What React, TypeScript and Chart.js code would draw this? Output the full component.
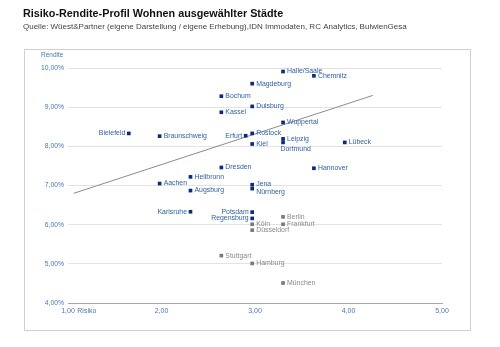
import React, { useEffect, useRef } from "react";
import { Chart, registerables } from "chart.js";

Chart.register(...registerables);

const cities = [
  "Halle/Saale", "Chemnitz", "Magdeburg", "Bochum", "Duisburg", "Kassel", "Wuppertal",
  "Bielefeld", "Braunschweig", "Erfurt", "Rostock", "Leipzig", "Dortmund", "Kiel", "Lübeck",
  "Dresden", "Hannover", "Heilbronn", "Aachen", "Jena", "Nürnberg", "Augsburg", "Karlsruhe",
  "Potsdam", "Regensburg",
];
const risk = [
  3.30, 3.63, 2.97, 2.64, 2.97, 2.64, 3.30,
  1.65, 1.98, 2.90, 2.97, 3.30, 3.30, 2.97, 3.96,
  2.64, 3.63, 2.31, 1.98, 2.97, 2.97, 2.31, 2.31,
  2.97, 2.97,
];
const yieldPct = [
  9.91, 9.80, 9.60, 9.28, 9.02, 8.87, 8.61,
  8.33, 8.26, 8.27, 8.33, 8.19, 8.10, 8.06, 8.10,
  7.46, 7.44, 7.22, 7.05, 7.02, 6.92, 6.87, 6.33,
  6.32, 6.16,
];

const bigCities = ["Berlin", "Köln", "Frankfurt", "Düsseldorf", "Stuttgart", "Hamburg", "München"];
const bigRisk = [3.30, 2.97, 3.30, 2.97, 2.64, 2.97, 3.30];
const bigYield = [6.20, 6.01, 6.01, 5.86, 5.21, 5.01, 4.51];

const trendRisk = [1.06, 4.26];
const trendYield = [6.80, 9.30];

const xTicks = [1, 2, 3, 4, 5];
const yTicks = [4, 5, 6, 7, 8, 9, 10];

const title = "Risiko-Rendite-Profil Wohnen ausgewählter Städte";
const subtitle = "Quelle: Wüest&Partner (eigene Darstellung / eigene Erhebung),IDN Immodaten, RC Analytics, BulwienGesa";

// label placement (style)
const leftLabels = ["Bielefeld", "Erfurt", "Karlsruhe", "Potsdam", "Regensburg"];
const belowLabels = ["Dortmund"];
const shiftDown: Record<string, number> = { "Nürnberg": 3, "Jena": -1 };

const FONT = "Arial, 'Liberation Sans', sans-serif";
const BLUE_MARK = "#0c2a7e";
const BLUE_TEXT = "#2f5f9f";
const GRAY_MARK = "#7a7a7a";
const GRAY_TEXT = "#8a8a8a";
const TICK_TEXT = "#4a78b2";

const fmt = (v: number) => v.toFixed(2).replace(".", ",");

export default function App() {
  const ref = useRef<HTMLCanvasElement | null>(null);
  useEffect(() => {
    if (!ref.current) return;
    const labelPlugin = {
      id: "labels",
      beforeDraw(chart: any) {
        const ctx = chart.ctx;
        ctx.save();
        ctx.fillStyle = "#ffffff";
        ctx.fillRect(0, 0, chart.width, chart.height);
        ctx.strokeStyle = "#d0d0d0";
        ctx.lineWidth = 1;
        ctx.strokeRect(24.5, 49.5, 446, 281);
        ctx.fillStyle = "#111";
        ctx.font = `bold 10.8px ${FONT}`;
        ctx.textBaseline = "middle";
        ctx.textAlign = "left";
        ctx.fillText(title, 23, 14);
        ctx.fillStyle = "#444";
        ctx.font = `8px ${FONT}`;
        ctx.fillText(subtitle, 23, 27);
        ctx.fillStyle = TICK_TEXT;
        ctx.font = `6.5px ${FONT}`;
        ctx.fillText("Rendite", 41, 55.5);
        const xs = chart.scales.x;
        const ys = chart.scales.y;
        ctx.font = `7px ${FONT}`;
        ctx.fillText("Risiko", xs.getPixelForValue(1) + 9.3, ys.bottom + 8.5);
        ctx.restore();
      },
      afterDatasetsDraw(chart: any) {
        const ctx = chart.ctx;
        const xs = chart.scales.x;
        const ys = chart.scales.y;
        ctx.save();
        ctx.font = `6.9px ${FONT}`;
        ctx.textBaseline = "middle";
        const draw = (names: string[], xv: number[], yv: number[], color: string) => {
          ctx.fillStyle = color;
          names.forEach((n, i) => {
            const px = xs.getPixelForValue(xv[i]);
            const py = ys.getPixelForValue(yv[i]) + (shiftDown[n] || 0);
            if (leftLabels.includes(n)) {
              ctx.textAlign = "right";
              ctx.fillText(n, px - 3.5, py);
            } else if (belowLabels.includes(n)) {
              ctx.textAlign = "left";
              ctx.fillText(n, px - 2.5, py + 6.5);
            } else {
              ctx.textAlign = "left";
              ctx.fillText(n, px + 4, py);
            }
          });
        };
        draw(cities, risk, yieldPct, BLUE_TEXT);
        draw(bigCities, bigRisk, bigYield, GRAY_TEXT);
        ctx.restore();
      },
    };

    const chart = new Chart(ref.current, {
      type: "scatter",
      data: {
        datasets: [
          {
            label: "Trend",
            data: trendRisk.map((x, i) => ({ x, y: trendYield[i] })),
            showLine: true,
            borderColor: "#8c8c8c",
            borderWidth: 1,
            pointRadius: 0,
            order: 3,
          },
          {
            label: "Städte",
            data: risk.map((x, i) => ({ x, y: yieldPct[i] })),
            pointStyle: "rect",
            pointRadius: 2.6,
            backgroundColor: BLUE_MARK,
            borderColor: BLUE_MARK,
            borderWidth: 0,
            order: 1,
          },
          {
            label: "Top-Städte",
            data: bigRisk.map((x, i) => ({ x, y: bigYield[i] })),
            pointStyle: "rect",
            pointRadius: 2.6,
            backgroundColor: GRAY_MARK,
            borderColor: GRAY_MARK,
            borderWidth: 0,
            order: 2,
          },
        ],
      },
      options: {
        animation: false,
        responsive: false,
        layout: { padding: { top: 68, right: 58, left: 0, bottom: 0 } },
        plugins: { legend: { display: false }, tooltip: { enabled: false } },
        scales: {
          x: {
            type: "linear",
            min: 1,
            max: 5,
            afterBuildTicks: (s: any) => { s.ticks = xTicks.map((v) => ({ value: v })); },
            afterFit: (s: any) => { s.height = 44; },
            grid: { display: false, drawTicks: false },
            border: { display: true, color: "#a6a6a6", width: 1 },
            ticks: {
              color: TICK_TEXT,
              font: { size: 7, family: FONT },
              padding: 4,
              maxRotation: 0,
              callback: (v: any) => fmt(Number(v)),
            },
          },
          y: {
            type: "linear",
            min: 4,
            max: 10,
            afterBuildTicks: (s: any) => { s.ticks = yTicks.map((v) => ({ value: v })); },
            afterFit: (s: any) => { s.width = 68; },
            grid: { color: "#e3e3e3", lineWidth: 1, drawTicks: false },
            border: { display: false },
            ticks: {
              color: TICK_TEXT,
              font: { size: 6.8, family: FONT },
              padding: 4,
              callback: (v: any) => fmt(Number(v)) + "%",
            },
          },
        },
      },
      plugins: [labelPlugin],
    });
    return () => chart.destroy();
  }, []);

  return (
    <div style={{ position: "absolute", left: 0, top: 0, width: 500, height: 347, background: "#fff" }}>
      <canvas ref={ref} width={500} height={347} style={{ display: "block", width: 500, height: 347 }} />
    </div>
  );
}
